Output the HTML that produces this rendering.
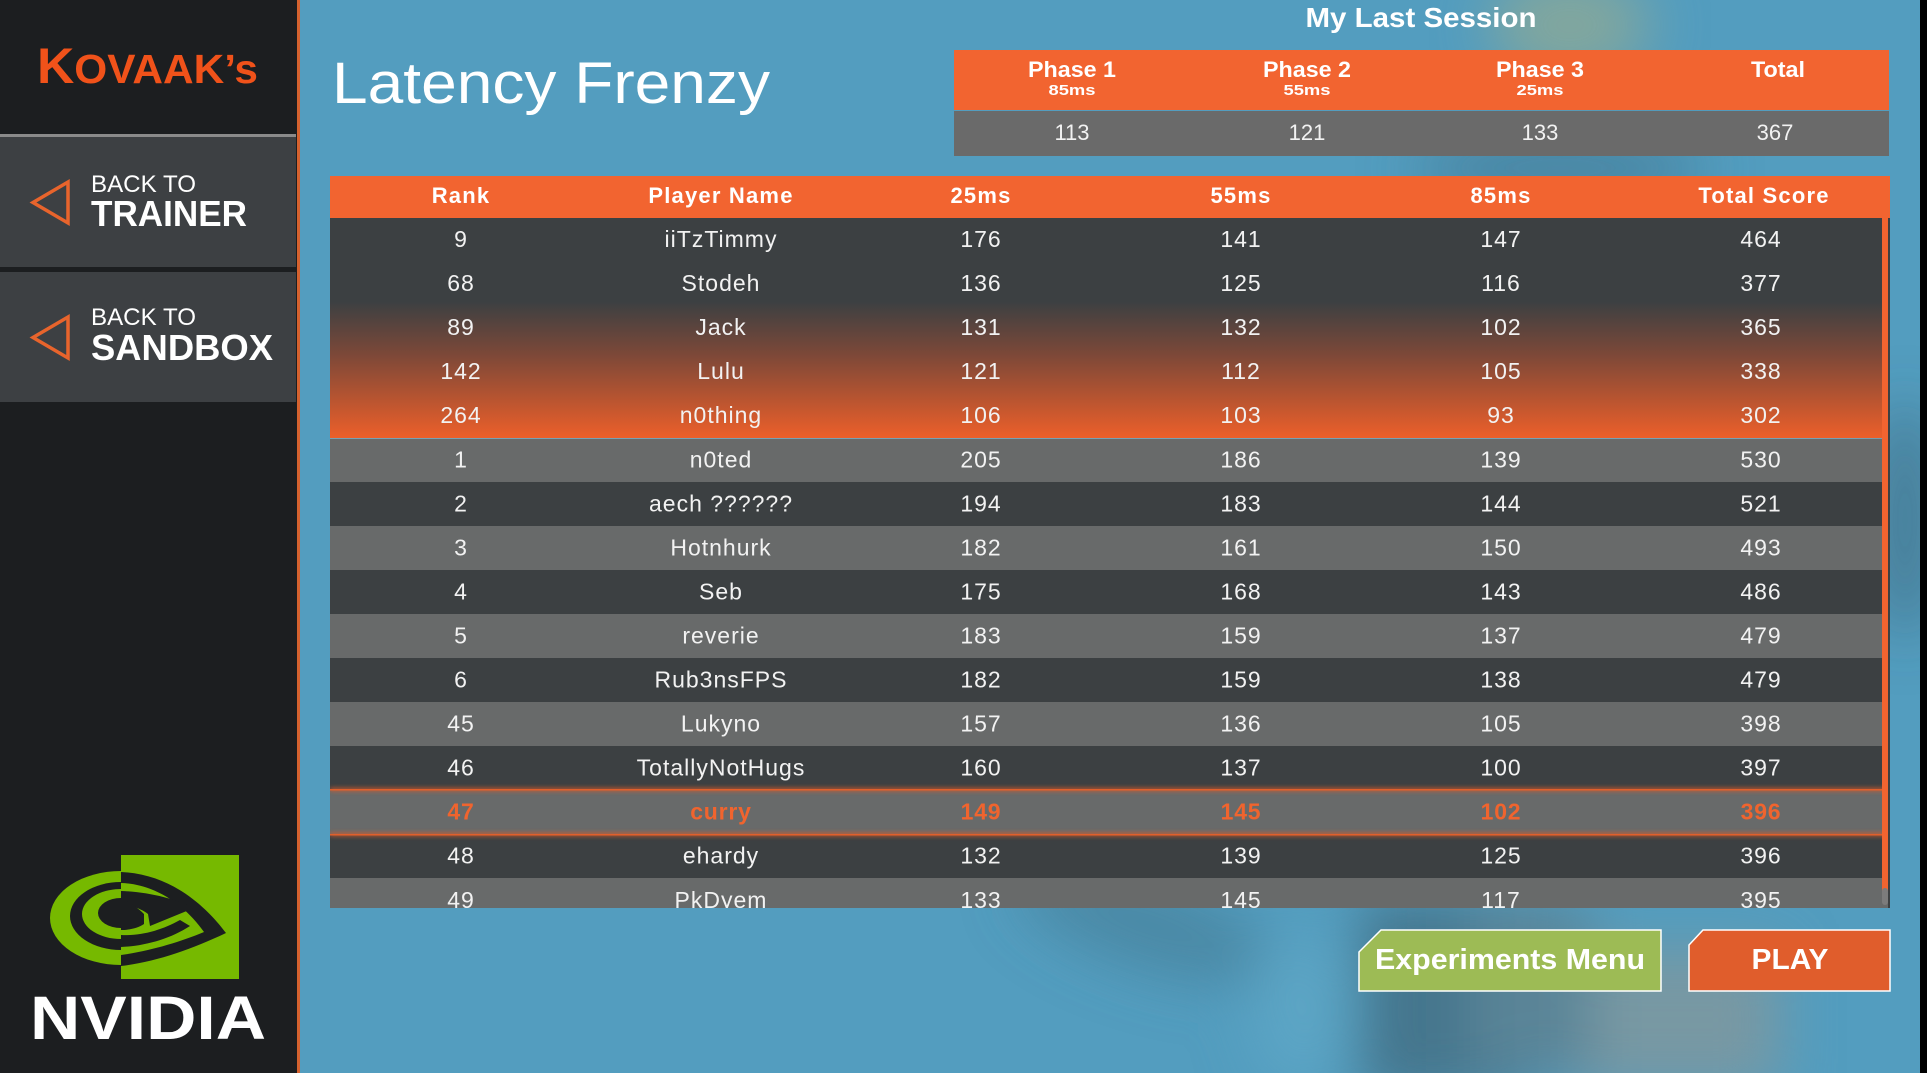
<!DOCTYPE html>
<html>
<head>
<meta charset="utf-8">
<style>
  html,body{margin:0;padding:0;background:#1c1e20;}
  body{width:1927px;height:1073px;overflow:hidden;}
  svg{display:block;}
  text{font-family:"Liberation Sans", Arial, sans-serif;}
</style>
</head>
<body>
<svg width="1927" height="1073" viewBox="0 0 1927 1073" xmlns="http://www.w3.org/2000/svg">
  <defs>
    <filter id="blur" x="-100%" y="-100%" width="300%" height="300%"><feGaussianBlur stdDeviation="28"/></filter>
    <filter id="blur2" x="-50%" y="-50%" width="200%" height="200%"><feGaussianBlur stdDeviation="2"/></filter>
    <linearGradient id="grad" x1="0" y1="218" x2="0" y2="438" gradientUnits="userSpaceOnUse">
      <stop offset="0.38" stop-color="#3c4042"/>
      <stop offset="0.62" stop-color="#7c4838"/>
      <stop offset="1" stop-color="#ec5f2a"/>
    </linearGradient>
    <clipPath id="tclip"><rect x="330" y="218" width="1560" height="690"/></clipPath>
    <clipPath id="lhalf"><rect x="0" y="840" width="121" height="160"/></clipPath>
  </defs>

  <!-- background -->
  <rect x="0" y="0" width="1927" height="1073" fill="#539dbf"/>
  <g filter="url(#blur)">
    <ellipse cx="1570" cy="25" rx="80" ry="55" fill="#8aa898" opacity="0.85"/>
    <ellipse cx="1560" cy="168" rx="150" ry="30" fill="#3f6f88" opacity="0.6"/>
    <ellipse cx="1150" cy="925" rx="140" ry="45" fill="#467a92" opacity="0.55" transform="rotate(18 1150 925)"/>
    <rect x="1360" y="900" width="170" height="200" fill="#44768d"/>
    <rect x="1570" y="950" width="210" height="140" fill="#7898a3"/>
    <rect x="1470" y="905" width="120" height="170" fill="#5a8497"/>
    <ellipse cx="1300" cy="1010" rx="50" ry="80" fill="#5fa7c7" opacity="0.8"/>
    <ellipse cx="1905" cy="520" rx="28" ry="120" fill="#3a5a6a" opacity="0.55"/>
  </g>
  <rect x="1920" y="0" width="7" height="1073" fill="#000000"/>

  <!-- sidebar -->
  <rect x="0" y="0" width="297" height="1073" fill="#1c1e20"/>
  <rect x="297" y="0" width="3" height="1073" fill="#d5622f"/>
  <text x="37" y="83" font-weight="bold" fill="#f0521a" textLength="221" lengthAdjust="spacingAndGlyphs"><tspan font-size="50">K</tspan><tspan font-size="41">OVAAK’s</tspan></text>
  <rect x="0" y="134" width="296" height="3" fill="#8a8a8a"/>
  <rect x="0" y="137" width="296" height="130" fill="#3d4043"/>
  <rect x="0" y="272" width="296" height="130" fill="#3d4043"/>
  <polygon points="33,202.5 68,182 68,223" fill="none" stroke="#e8642c" stroke-width="3.5" stroke-linejoin="miter"/>
  <polygon points="33,337.5 68,317 68,358" fill="none" stroke="#e8642c" stroke-width="3.5" stroke-linejoin="miter"/>
  <text x="91" y="192" font-size="24" fill="#ffffff" textLength="105" lengthAdjust="spacingAndGlyphs">BACK TO</text>
  <text x="91" y="226" font-size="36" font-weight="bold" fill="#ffffff" textLength="156" lengthAdjust="spacingAndGlyphs">TRAINER</text>
  <text x="91" y="325" font-size="24" fill="#ffffff" textLength="105" lengthAdjust="spacingAndGlyphs">BACK TO</text>
  <text x="91" y="360" font-size="36" font-weight="bold" fill="#ffffff" textLength="182" lengthAdjust="spacingAndGlyphs">SANDBOX</text>

  <!-- NVIDIA logo -->
  <rect x="121" y="855" width="118" height="124" fill="#76b900"/>
  <g clip-path="url(#lhalf)">
    <ellipse cx="121" cy="918" rx="71" ry="47" fill="#76b900"/>
    <ellipse cx="121" cy="916" rx="51" ry="34" fill="#1c1e20"/>
    <ellipse cx="121" cy="914" rx="39" ry="25" fill="#76b900"/>
    <ellipse cx="121" cy="913" rx="23" ry="15" fill="#1c1e20"/>
  </g>
  <path d="M121,872 C170,874 205,905 226,933 C190,950 155,962 121,966 L121,955 C150,951 180,942 204,932 C185,905 155,884 121,883 Z" fill="#1c1e20"/>
  <path d="M121,891 C150,892 175,899 194,908 L150,926 L148,914 C140,908 130,905 121,905 Z" fill="#1c1e20"/>
  <path d="M121,898 L121,930 C130,930 138,928 144,924 L144,914 C136,906 128,902 121,898 Z" fill="#1c1e20"/>
  <path d="M121,935 C142,936 162,930 180,920 L190,926 C170,939 145,946 121,947 Z" fill="#1c1e20"/>
  <text x="30" y="1039" font-size="61" font-weight="bold" fill="#ffffff" textLength="236" lengthAdjust="spacingAndGlyphs">NVIDIA</text>

  <!-- title -->
  <text x="332" y="103" font-size="58" fill="#ffffff" textLength="438" lengthAdjust="spacingAndGlyphs">Latency Frenzy</text>

  <!-- My Last Session -->
  <text x="1421" y="27" font-size="28" font-weight="bold" fill="#ffffff" text-anchor="middle" textLength="231" lengthAdjust="spacingAndGlyphs">My Last Session</text>
  <rect x="954" y="50" width="935" height="60" fill="#f26430"/>
  <rect x="954" y="111" width="935" height="45" fill="#6a6a6a"/>
  <g font-weight="bold" fill="#ffffff" text-anchor="middle">
    <text x="1072" y="77" font-size="22" textLength="88" lengthAdjust="spacingAndGlyphs">Phase 1</text>
    <text x="1307" y="77" font-size="22" textLength="88" lengthAdjust="spacingAndGlyphs">Phase 2</text>
    <text x="1540" y="77" font-size="22" textLength="88" lengthAdjust="spacingAndGlyphs">Phase 3</text>
    <text x="1778" y="77" font-size="22" textLength="54" lengthAdjust="spacingAndGlyphs">Total</text>
    <text x="1072" y="95" font-size="15" textLength="47" lengthAdjust="spacingAndGlyphs">85ms</text>
    <text x="1307" y="95" font-size="15" textLength="47" lengthAdjust="spacingAndGlyphs">55ms</text>
    <text x="1540" y="95" font-size="15" textLength="47" lengthAdjust="spacingAndGlyphs">25ms</text>
  </g>
  <g font-size="22" fill="#f2f2f2" text-anchor="middle">
    <text x="1072" y="140">113</text>
    <text x="1307" y="140">121</text>
    <text x="1540" y="140">133</text>
    <text x="1775" y="140">367</text>
  </g>

  <!-- main table header -->
  <rect x="330" y="176" width="1560" height="42" fill="#f26430"/>
  <g font-size="22" font-weight="bold" fill="#ffffff" text-anchor="middle" letter-spacing="1.2">
    <text x="461" y="203">Rank</text>
    <text x="721" y="203">Player Name</text>
    <text x="981" y="203">25ms</text>
    <text x="1241" y="203">55ms</text>
    <text x="1501" y="203">85ms</text>
    <text x="1764" y="203">Total Score</text>
  </g>

  <!-- rows -->
  <g clip-path="url(#tclip)">
    <rect x="330" y="218" width="1560" height="220" fill="url(#grad)"/>
    <rect x="330" y="438" width="1560" height="1" fill="#8fa3ab" opacity="0.6"/>
    <rect x="330" y="439" width="1560" height="43" fill="#686a6a"/>
    <rect x="330" y="482" width="1560" height="44" fill="#3c4042"/>
    <rect x="330" y="526" width="1560" height="44" fill="#686a6a"/>
    <rect x="330" y="570" width="1560" height="44" fill="#3c4042"/>
    <rect x="330" y="614" width="1560" height="44" fill="#686a6a"/>
    <rect x="330" y="658" width="1560" height="44" fill="#3c4042"/>
    <rect x="330" y="702" width="1560" height="44" fill="#686a6a"/>
    <rect x="330" y="746" width="1560" height="44" fill="#3c4042"/>
    <rect x="330" y="790" width="1560" height="44" fill="#686a6a"/>
    <rect x="330" y="834" width="1560" height="44" fill="#3c4042"/>
    <rect x="330" y="878" width="1560" height="44" fill="#686a6a"/>
    <g filter="url(#blur2)">
      <rect x="330" y="788" width="1560" height="3" fill="#d85a2a"/>
      <rect x="330" y="833" width="1560" height="3" fill="#d85a2a"/>
    </g>
    <rect x="330" y="789" width="1560" height="1.5" fill="#e0602c"/>
    <rect x="330" y="834" width="1560" height="1.5" fill="#e0602c"/>

    <g font-size="23" fill="#f2f2f2" text-anchor="middle" letter-spacing="1">
      <text x="461" y="247">9</text><text x="721" y="247">iiTzTimmy</text><text x="981" y="247">176</text><text x="1241" y="247">141</text><text x="1501" y="247">147</text><text x="1761" y="247">464</text>
      <text x="461" y="291">68</text><text x="721" y="291">Stodeh</text><text x="981" y="291">136</text><text x="1241" y="291">125</text><text x="1501" y="291">116</text><text x="1761" y="291">377</text>
      <text x="461" y="335">89</text><text x="721" y="335">Jack</text><text x="981" y="335">131</text><text x="1241" y="335">132</text><text x="1501" y="335">102</text><text x="1761" y="335">365</text>
      <text x="461" y="379">142</text><text x="721" y="379">Lulu</text><text x="981" y="379">121</text><text x="1241" y="379">112</text><text x="1501" y="379">105</text><text x="1761" y="379">338</text>
      <text x="461" y="423">264</text><text x="721" y="423">n0thing</text><text x="981" y="423">106</text><text x="1241" y="423">103</text><text x="1501" y="423">93</text><text x="1761" y="423">302</text>
      <text x="461" y="467.5">1</text><text x="721" y="467.5">n0ted</text><text x="981" y="467.5">205</text><text x="1241" y="467.5">186</text><text x="1501" y="467.5">139</text><text x="1761" y="467.5">530</text>
      <text x="461" y="511.5">2</text><text x="721" y="511.5">aech ??????</text><text x="981" y="511.5">194</text><text x="1241" y="511.5">183</text><text x="1501" y="511.5">144</text><text x="1761" y="511.5">521</text>
      <text x="461" y="555.5">3</text><text x="721" y="555.5">Hotnhurk</text><text x="981" y="555.5">182</text><text x="1241" y="555.5">161</text><text x="1501" y="555.5">150</text><text x="1761" y="555.5">493</text>
      <text x="461" y="599.5">4</text><text x="721" y="599.5">Seb</text><text x="981" y="599.5">175</text><text x="1241" y="599.5">168</text><text x="1501" y="599.5">143</text><text x="1761" y="599.5">486</text>
      <text x="461" y="643.5">5</text><text x="721" y="643.5">reverie</text><text x="981" y="643.5">183</text><text x="1241" y="643.5">159</text><text x="1501" y="643.5">137</text><text x="1761" y="643.5">479</text>
      <text x="461" y="687.5">6</text><text x="721" y="687.5">Rub3nsFPS</text><text x="981" y="687.5">182</text><text x="1241" y="687.5">159</text><text x="1501" y="687.5">138</text><text x="1761" y="687.5">479</text>
      <text x="461" y="731.5">45</text><text x="721" y="731.5">Lukyno</text><text x="981" y="731.5">157</text><text x="1241" y="731.5">136</text><text x="1501" y="731.5">105</text><text x="1761" y="731.5">398</text>
      <text x="461" y="775.5">46</text><text x="721" y="775.5">TotallyNotHugs</text><text x="981" y="775.5">160</text><text x="1241" y="775.5">137</text><text x="1501" y="775.5">100</text><text x="1761" y="775.5">397</text>
      <text x="461" y="863.5">48</text><text x="721" y="863.5">ehardy</text><text x="981" y="863.5">132</text><text x="1241" y="863.5">139</text><text x="1501" y="863.5">125</text><text x="1761" y="863.5">396</text>
      <text x="461" y="908">49</text><text x="721" y="908">PkDyem</text><text x="981" y="908">133</text><text x="1241" y="908">145</text><text x="1501" y="908">117</text><text x="1761" y="908">395</text>
    </g>
    <g font-size="23" font-weight="bold" fill="#f0642e" text-anchor="middle" letter-spacing="0.8">
      <text x="461" y="819.5">47</text><text x="721" y="819.5">curry</text><text x="981" y="819.5">149</text><text x="1241" y="819.5">145</text><text x="1501" y="819.5">102</text><text x="1761" y="819.5">396</text>
    </g>

    <!-- scrollbar -->
    <rect x="1888" y="218" width="2" height="690" fill="#3c4042"/>
    <rect x="1882" y="218" width="6" height="674" fill="#f26430"/>
    <rect x="1882" y="888" width="6" height="17" rx="3" fill="#7c7c7c"/>
  </g>

  <!-- buttons -->
  <polygon points="1359,952 1381,930 1661,930 1661,991 1359,991" fill="#9dbb55" stroke="#ffffff" stroke-width="1.5"/>
  <text x="1510" y="969" font-size="29" font-weight="bold" fill="#ffffff" text-anchor="middle" textLength="270" lengthAdjust="spacingAndGlyphs">Experiments Menu</text>
  <polygon points="1689,945 1703,930 1890,930 1890,991 1689,991" fill="#e05d2c" stroke="#ffffff" stroke-width="1.5"/>
  <text x="1790" y="969" font-size="29" font-weight="bold" fill="#ffffff" text-anchor="middle" textLength="77" lengthAdjust="spacingAndGlyphs">PLAY</text>
</svg>
</body>
</html>
